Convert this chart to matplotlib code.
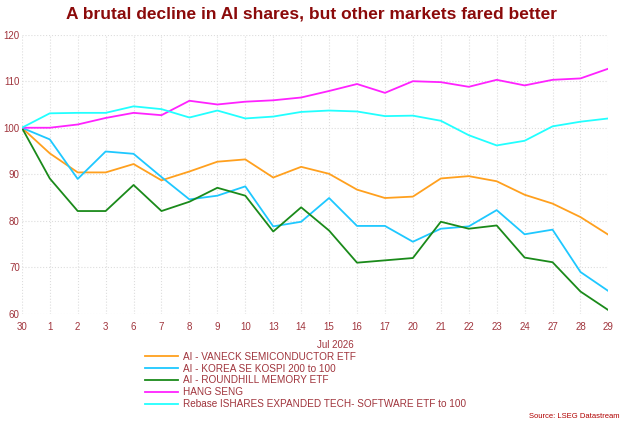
import numpy as np
import matplotlib.pyplot as plt

dates = ["30", "1", "2", "3", "6", "7", "8", "9", "10", "13", "14", "15",
         "16", "17", "20", "21", "22", "23", "24", "27", "28", "29"]

vaneck = [100, 94.5, 90.4, 90.4, 92.2, 88.7, 90.6, 92.7, 93.2, 89.3, 91.6,
          90.1, 86.7, 84.9, 85.2, 89.1, 89.6, 88.5, 85.6, 83.7, 80.8, 77.0]
kospi = [100, 97.5, 89.0, 94.9, 94.4, 89.4, 84.6, 85.4, 87.4, 78.8, 79.8,
         84.9, 78.9, 78.9, 75.5, 78.3, 78.8, 82.3, 77.1, 78.1, 69.0, 64.9]
roundhill = [100, 89.1, 82.1, 82.1, 87.7, 82.1, 84.1, 87.1, 85.4, 77.7, 82.9,
             77.9, 71.0, 71.5, 72.0, 79.8, 78.3, 79.0, 72.1, 71.1, 64.8, 60.8]
hangseng = [100, 100.0, 100.7, 102.1, 103.2, 102.7, 105.8, 105.0, 105.6, 105.9,
            106.5, 107.9, 109.4, 107.5, 110.0, 109.8, 108.8, 110.3, 109.1,
            110.3, 110.6, 112.7]
ishares = [100, 103.1, 103.2, 103.2, 104.6, 104.0, 102.2, 103.7, 102.0, 102.4,
           103.4, 103.7, 103.5, 102.5, 102.6, 101.5, 98.4, 96.2, 97.2, 100.3,
           101.3, 102.0]

series = [
    ("AI - VANECK SEMICONDUCTOR ETF", vaneck, "#FFA01E"),
    ("AI - KOREA SE KOSPI 200 to 100", kospi, "#1EC8FF"),
    ("AI - ROUNDHILL MEMORY ETF", roundhill, "#1A8A1A"),
    ("HANG SENG", hangseng, "#FF22FF"),
    ("Rebase ISHARES EXPANDED TECH- SOFTWARE ETF to 100", ishares, "#22FFFF"),
]

txt = "#A0343C"
plt.rcParams['font.family'] = ['Liberation Sans', 'DejaVu Sans']

fig = plt.figure(figsize=(6.24, 4.23), dpi=100)
ax = fig.add_axes([0.035, 0.258, 0.94, 0.66])

x = np.arange(len(dates))
for name, vals, col in series:
    ax.plot(x, vals, color=col, lw=1.3, label=name)

ax.set_xlim(0, len(dates) - 1)
ax.set_ylim(60, 120)
ax.set_xticks(x)
ax.set_xticklabels(dates)
ax.set_yticks(np.arange(60, 121, 10))
ax.tick_params(length=0, labelsize=7, colors=txt)
ax.tick_params(axis="x", pad=6)
ax.tick_params(axis="y", pad=1.5)
ax.grid(color="#DDDDDD", linestyle=":", lw=0.8)
for s in ax.spines.values():
    s.set_visible(False)
ax.set_xlabel("Jul 2026", fontsize=7, color=txt)
ax.xaxis.set_label_coords(0.535, -0.095)

fig.suptitle("A brutal decline in AI shares, but other markets fared better",
             x=0.5, y=0.985, fontsize=12.5, fontweight="bold", color="#8B0A0A")

ax.legend(loc="upper left", bbox_to_anchor=(0.225, 0.18), bbox_transform=fig.transFigure,
          frameon=False, fontsize=7.2, labelcolor=txt, handlelength=3.3,
          handletextpad=0.5, labelspacing=0.18, borderpad=0)

fig.text(0.993, 0.012, "Source: LSEG Datastream", fontsize=5.5, color="#B00000", ha="right")

fig.savefig("out.png", dpi=100)
